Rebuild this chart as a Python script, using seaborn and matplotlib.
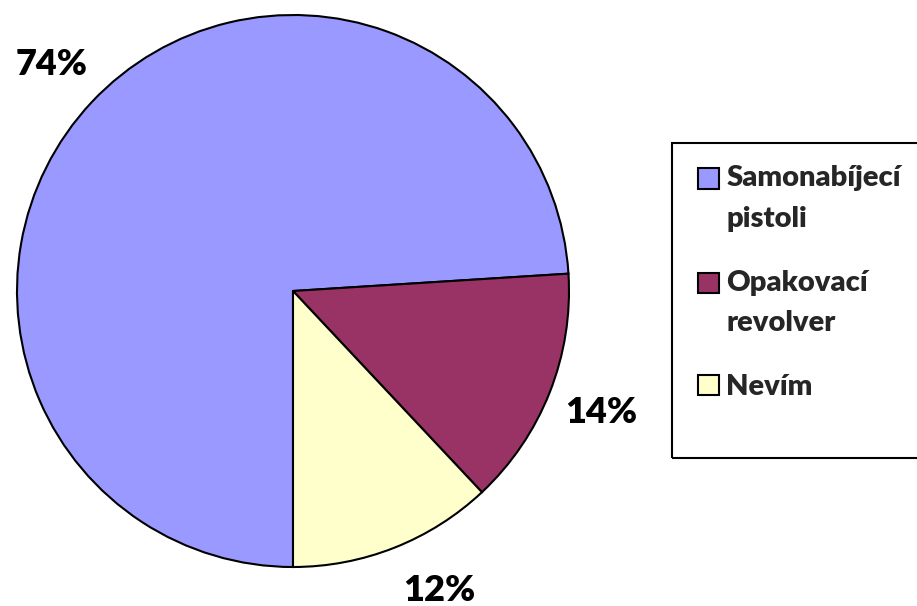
import matplotlib
matplotlib.use("Agg")
import matplotlib.pyplot as plt
import seaborn as sns
from matplotlib.patches import Rectangle
from matplotlib.legend_handler import HandlerPatch
from matplotlib.font_manager import FontProperties

# Datos del gráfico
categorias = ["Samonabíjecí\npistoli", "Opakovací\nrevolver", "Nevím"]
porcentajes = [74, 14, 12]
colores = ["#9999FF", "#993366", "#FFFFCC"]

sns.set_theme(style="white")
plt.rcParams['font.family'] = ['Lato', 'DejaVu Sans']

W, H = 917, 606
fig = plt.figure(figsize=(W / 100, H / 100), dpi=100)

# Ejes del pastel (centro y radio en píxeles)
cx, cy, r = 293, 291, 276
lim = 1.01
ax = fig.add_axes([(cx - r * lim) / W, (H - cy - r * lim) / H,
                   2 * r * lim / W, 2 * r * lim / H])

wedges, textos, pcts = ax.pie(
    porcentajes,
    colors=colores,
    startangle=270,
    counterclock=False,
    autopct='%1.0f%%',
    pctdistance=1.2,
    wedgeprops=dict(edgecolor='black', linewidth=1.5),
    textprops=dict(fontsize=26, fontweight='heavy', color='black'),
)
ax.set_xlim(-lim, lim)
ax.set_ylim(-lim, lim)
ax.set_aspect('equal')

# Excel coloca la etiqueta del 12 % algo más a la derecha
x12, y12 = pcts[2].get_position()
pcts[2].set_position((x12 + 0.09, y12 + 0.03))

# Leyenda: cuadro alineado con la primera línea del texto
interlineado = 1.7
fs_leyenda = 21
prop_leyenda = FontProperties(family=['Lato', 'DejaVu Sans'], weight='heavy', size=fs_leyenda)

renderer = fig.canvas.get_renderer()
_, lp_h, lp_d = renderer.get_text_width_height_descent("lp", prop_leyenda, ismath=False)
lp_h, lp_d = lp_h * 72 / fig.dpi, lp_d * 72 / fig.dpi


def cuadro(lineas):
    def f(legend, orig_handle, xdescent, ydescent, width, height, fontsize):
        dy = 0.5 * (lineas - 1) * (interlineado * (lp_h - lp_d) + lp_d)
        return Rectangle((-xdescent, -ydescent + dy), width, height)
    return f


mapa = {w: HandlerPatch(patch_func=cuadro(c.count("\n") + 1))
        for w, c in zip(wedges, categorias)}

leg = fig.legend(
    wedges, categorias,
    handler_map=mapa,
    loc='upper left',
    bbox_to_anchor=(698 / W, 1 - 165 / H),
    frameon=False,
    borderpad=0,
    borderaxespad=0,
    handlelength=0.72,
    handleheight=0.72,
    handletextpad=0.25,
    labelspacing=1.3,
    prop=prop_leyenda,
)
for t in leg.get_texts():
    t.set_linespacing(interlineado)

# Marco de la leyenda
fig.add_artist(Rectangle((672 / W, 1 - 458 / H), (930 - 672) / W, (458 - 143) / H,
                         transform=fig.transFigure, fill=False,
                         edgecolor='black', linewidth=1.5))

fig.savefig('out.png', dpi=100)
